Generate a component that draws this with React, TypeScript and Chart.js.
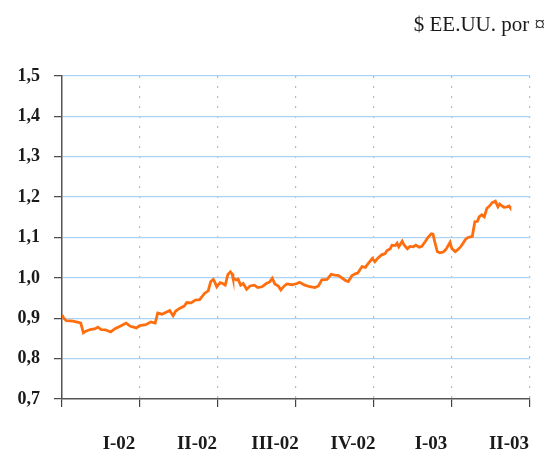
import React, { useEffect, useRef } from "react";
import { Chart, registerables } from "chart.js";

Chart.register(...registerables);

// Days since 1 Jan 2002
const days = [
  0, 2, 5, 13, 19, 22, 25, 28, 33, 39, 42, 46, 51, 57, 62, 68, 75, 80, 87, 91,
  98, 104, 109, 112, 117, 123, 126, 130, 133, 138, 143, 146, 151, 156, 161, 167, 171, 174, 177, 179,
  181, 185, 188, 191, 194, 197, 199, 200, 204, 206, 209, 212, 216, 220, 225, 229, 234, 239, 243, 246,
  249, 253, 256, 260, 263, 269, 275, 278, 284, 290, 296, 300, 304, 310, 315, 319, 323, 328, 332, 335,
  339, 343, 346, 351, 355, 357, 360, 363, 366, 370, 374, 378, 380, 384, 386, 390, 392, 394, 398, 400,
  404, 407, 411, 414, 418, 421, 425, 428, 432, 434, 436, 439, 442, 446, 449, 454, 456, 460, 463, 466,
  469, 472, 475, 480, 483, 486, 488, 491, 494, 497, 501, 503, 507, 510, 512, 515, 517, 521, 523, 524,
];

// US dollars per euro
const usdPerEur = [
  0.908, 0.900, 0.894, 0.893, 0.890, 0.888, 0.864, 0.868, 0.872, 0.874, 0.878, 0.872, 0.871, 0.866, 0.874, 0.880, 0.888, 0.880, 0.876, 0.882,
  0.884, 0.891, 0.888, 0.913, 0.910, 0.916, 0.919, 0.906, 0.918, 0.925, 0.930, 0.939, 0.938, 0.945, 0.946, 0.962, 0.968, 0.991, 0.996, 0.988,
  0.978, 0.988, 0.986, 0.982, 1.008, 1.015, 1.010, 1.000, 0.995, 0.997, 0.982, 0.986, 0.972, 0.980, 0.982, 0.976, 0.978, 0.986, 0.990, 0.999,
  0.985, 0.980, 0.970, 0.980, 0.985, 0.983, 0.986, 0.989, 0.982, 0.978, 0.976, 0.980, 0.995, 0.996, 1.009, 1.007, 1.006, 0.999, 0.993, 0.991,
  1.005, 1.010, 1.012, 1.028, 1.026, 1.032, 1.040, 1.048, 1.040, 1.050, 1.057, 1.060, 1.067, 1.072, 1.081, 1.080, 1.086, 1.077, 1.091, 1.082,
  1.072, 1.078, 1.077, 1.081, 1.076, 1.078, 1.090, 1.100, 1.109, 1.108, 1.090, 1.065, 1.062, 1.064, 1.070, 1.088, 1.073, 1.065, 1.070, 1.076,
  1.085, 1.095, 1.100, 1.103, 1.139, 1.140, 1.151, 1.156, 1.151, 1.172, 1.180, 1.186, 1.190, 1.176, 1.183, 1.178, 1.175, 1.176, 1.178, 1.175,
];

const quarterLabels = ["I-02", "II-02", "III-02", "IV-02", "I-03", "II-03"];
const yTicks = [0.7, 0.8, 0.9, 1.0, 1.1, 1.2, 1.3, 1.4, 1.5];
const unitLabel = "$ EE.UU. por \u00A4";
const QUARTER_DAYS = 91.25;

const titlePlugin = {
  id: "unitTitle",
  afterDraw(chart: any) {
    const ctx = chart.ctx;
    ctx.save();
    ctx.font = "21px 'Liberation Serif', serif";
    ctx.fillStyle = "#1a1a1a";
    ctx.textAlign = "right";
    ctx.textBaseline = "alphabetic";
    ctx.fillText(unitLabel, 545, 31);
    ctx.restore();
  },
};

const bgPlugin = {
  id: "bg",
  beforeDraw(chart: any) {
    const ctx = chart.ctx;
    ctx.save();
    ctx.fillStyle = "#ffffff";
    ctx.fillRect(0, 0, chart.width, chart.height);
    ctx.restore();
  },
};

export default function App() {
  const ref = useRef<HTMLCanvasElement>(null);
  useEffect(() => {
    if (!ref.current) return;
    const chart = new Chart(ref.current, {
      type: "line",
      data: {
        datasets: [
          {
            data: days.map((d, i) => ({ x: d, y: usdPerEur[i] })),
            borderColor: "#ff6e0e",
            borderWidth: 2.8,
            pointRadius: 0,
            tension: 0,
            fill: false,
          },
        ],
      },
      options: {
        animation: false,
        responsive: false,
        events: [],
        layout: { padding: { top: 76, right: 17, left: 0, bottom: 0 } },
        plugins: { legend: { display: false }, tooltip: { enabled: false } },
        scales: {
          x: {
            type: "linear",
            min: 0,
            max: QUARTER_DAYS * quarterLabels.length,
            afterBuildTicks: (scale: any) => {
              scale.ticks = Array.from({ length: quarterLabels.length + 1 }, (_, i) => ({ value: i * QUARTER_DAYS }));
            },
            afterFit: (scale: any) => {
              scale.height = 59;
              scale.paddingLeft = 0;
              scale.paddingRight = 0;
            },
            grid: {
              color: (c: any) => (c.index === 0 ? "rgba(0,0,0,0)" : "#8ec3ef"),
              lineWidth: 1.2,
              tickColor: "#444",
              tickLength: 8,
              tickWidth: 1.2,
              tickBorderDash: [],
            },
            border: { color: "#555", width: 1.5, dash: [2, 8] },
            ticks: {
              autoSkip: false,
              maxRotation: 0,
              minRotation: 0,
              labelOffset: 57,
              padding: 26,
              color: "#1a1a1a",
              font: { family: "'Liberation Serif', serif", size: 19, weight: "bold" },
              callback: (_v: any, i: number) => quarterLabels[i] ?? "",
            },
          },
          y: {
            min: 0.7,
            max: 1.5,
            afterBuildTicks: (scale: any) => {
              scale.ticks = yTicks.map((v) => ({ value: v }));
            },
            afterFit: (scale: any) => {
              scale.width = 62;
            },
            grid: {
              color: (c: any) => (c.index === 0 ? "rgba(0,0,0,0)" : "#acd2f4"),
              lineWidth: 1.3,
              tickColor: "#444",
              tickLength: 8,
              tickWidth: 1.2,
            },
            border: { color: "#555", width: 1.5 },
            ticks: {
              padding: 14,
              color: "#1a1a1a",
              font: { family: "'Liberation Serif', serif", size: 18, weight: "bold" },
              callback: (v: any) => Number(v).toFixed(1).replace(".", ","),
            },
          },
        },
      },
      plugins: [bgPlugin, titlePlugin],
    });
    return () => chart.destroy();
  }, []);

  return (
    <div style={{ position: "absolute", left: 0, top: 0, width: 547, height: 458 }}>
      <canvas ref={ref} width={547} height={458} style={{ display: "block" }} />
    </div>
  );
}
